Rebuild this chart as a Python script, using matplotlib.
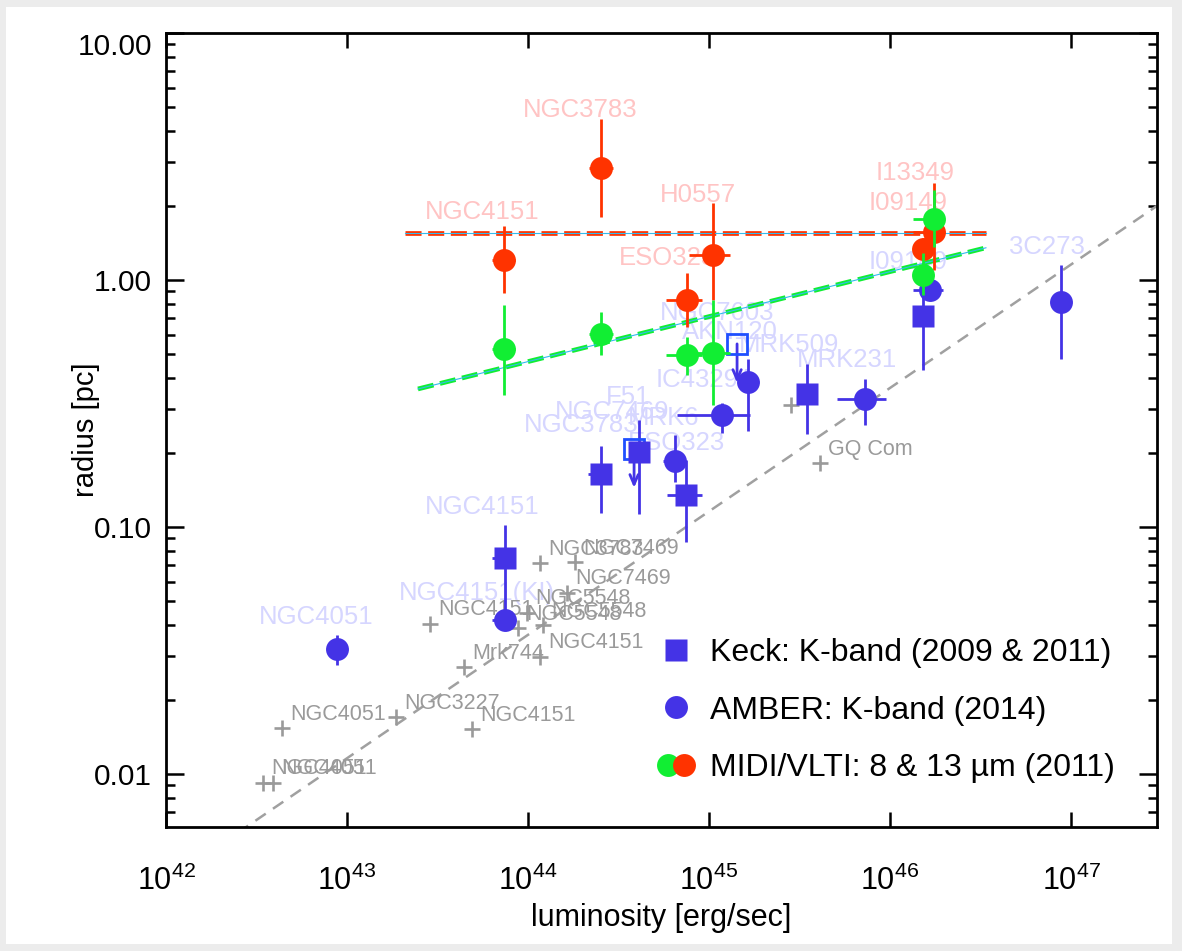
import numpy as np
import matplotlib as mpl
mpl.use('Agg')
import matplotlib.pyplot as plt
from matplotlib.ticker import FixedLocator, FixedFormatter, NullLocator, LogLocator, NullFormatter
from matplotlib.legend_handler import HandlerTuple
from matplotlib.lines import Line2D
from matplotlib.patches import Rectangle

plt.rcParams['font.family'] = ['Liberation Sans', 'DejaVu Sans']
plt.rcParams['mathtext.default'] = 'regular'

BLUE = '#4433E6'
LIMBLUE = '#1F4FFF'
RED = '#FF3300'
GREEN = '#11EE33'
PINK = '#FFC4C4'
LAV = '#D6D6FF'
GREY = '#9A9A9A'

# Keck K-band, filled squares (log L in erg/s, radius in pc)
keck_logL = [43.873, 44.403, 44.613, 44.873, 45.541, 46.182]
keck_R = [0.0748, 0.164, 0.201, 0.135, 0.345, 0.715]
keck_Rlo = [0.046, 0.114, 0.113, 0.087, 0.238, 0.433]
keck_Rhi = [0.102, 0.213, 0.271, 0.187, 0.457, 0.86]
keck_Llo = [43.80, 44.33, 44.60, 44.768, 45.53, 46.17]
keck_Lhi = [43.90, 44.42, 44.63, 44.961, 45.555, 46.195]

# Keck upper limits (open squares with arrows)
keck_ul_logL = [44.586, 45.155]
keck_ul_R = [0.207, 0.551]
keck_ul_tip = [0.144, 0.383]

# AMBER K-band 2014, circles
amber_logL = [42.945, 43.873, 44.812, 45.072, 45.215, 45.862, 46.221, 46.945]
amber_R = [0.032, 0.042, 0.185, 0.284, 0.386, 0.33, 0.91, 0.814]
amber_Rlo = [0.0276, 0.039, 0.152, 0.24, 0.245, 0.259, 0.87, 0.478]
amber_Rhi = [0.0366, 0.045, 0.235, 0.318, 0.48, 0.398, 0.95, 1.15]
amber_Llo = [42.925, 43.80, 44.745, 44.823, 45.20, 45.707, 46.127, 46.935]
amber_Lhi = [42.965, 43.88, 44.82, 45.227, 45.23, 45.978, 46.293, 46.955]

# MIDI/VLTI 13 um (red) and 8 um (green)
midi_logL = [43.867, 44.403, 44.878, 45.022, 46.182, 46.243]
midi_Llo = [43.80, 44.336, 44.762, 44.89, 46.17, 46.127]
midi_Lhi = [43.93, 44.47, 44.961, 45.116, 46.195, 46.293]
red13_R = [1.205, 2.84, 0.83, 1.26, 1.34, 1.56]
red13_Rlo = [0.885, 1.80, 0.645, 0.83, 1.22, 1.10]
red13_Rhi = [1.66, 4.49, 1.07, 2.05, 1.48, 2.47]
green8_R = [0.526, 0.604, 0.497, 0.506, 1.05, 1.77]
green8_Rlo = [0.342, 0.497, 0.412, 0.312, 0.87, 1.36]
green8_Rhi = [0.792, 0.741, 0.588, 0.83, 1.28, 2.31]

# fits to MIDI data
fit13_logL = [43.32, 46.53]
fit13_R = [1.55, 1.55]
fit8_logL = [43.392, 46.53]
fit8_R = [0.362, 1.35]

# reverberation radii (grey crosses)
rm_names = ['NGC4051', 'NGC4051', 'NGC4051', 'NGC3227', 'NGC4151', 'Mrk744', 'NGC4151',
            'NGC5548', 'NGC5548', 'NGC5548', 'NGC3783', 'NGC7469', 'NGC7469', 'NGC4151',
            '', 'GQ Com']
rm_logL = [42.641, 42.536, 42.591, 43.271, 43.691, 43.646, 43.459,
           43.945, 43.994, 44.083, 44.066, 44.260, 44.215, 44.066,
           45.453, 45.613]
rm_R = [0.0153, 0.0092, 0.0092, 0.0170, 0.0152, 0.0271, 0.0405,
        0.039, 0.0449, 0.0401, 0.0714, 0.0721, 0.0541, 0.0298,
        0.312, 0.1816]

# dust sublimation relation R ~ L^0.5
sub_logL = [42.30, 47.475]
sub_R = [0.00517, 1.995]

# source labels
pink_labels = ['NGC3783', 'NGC4151', 'H0557', 'ESO323', 'I13349', 'I09149']
pink_logL = [44.287, 43.746, 44.939, 44.773, 46.138, 46.099]
pink_R = [4.87, 1.88, 2.21, 1.23, 2.71, 2.05]
lav_labels = ['I09149', '3C273', 'MRK231', 'MRK509', 'NGC7603', 'AKN120', 'IC4329A', 'F51',
              'NGC7469', 'MRK6', 'NGC3783', 'ESO323', 'NGC4151', 'NGC4151(KI)', 'NGC4051']
lav_logL = [46.099, 46.867, 45.762, 45.442, 45.044, 45.116, 44.983, 44.552,
            44.464, 44.751, 44.293, 44.823, 43.746, 43.718, 42.829]
lav_R = [1.18, 1.36, 0.474, 0.546, 0.734, 0.615, 0.394, 0.336,
         0.292, 0.276, 0.259, 0.219, 0.1205, 0.0541, 0.0432]


def errs(logL, R, Rlo, Rhi, Llo, Lhi):
    L = 10 ** np.array(logL)
    R = np.array(R)
    yerr = [R - np.array(Rlo), np.array(Rhi) - R]
    xerr = [L - 10 ** np.array(Llo), 10 ** np.array(Lhi) - L]
    return L, R, xerr, yerr


fig = plt.figure(figsize=(11.82, 9.51), dpi=100)
fig.patch.set_facecolor('#ECECEC')
fig.add_artist(Rectangle((6 / 1182, 7 / 951), 1166 / 1182, 937 / 951, transform=fig.transFigure,
                         facecolor='white', edgecolor='none', zorder=-10))
ax = fig.add_axes([166 / 1182, 1 - 827 / 951, 991 / 1182, 794 / 951])
ax.set_xscale('log')
ax.set_yscale('log')

# labels under everything
for t, l, r in zip(pink_labels, pink_logL, pink_R):
    ax.text(10 ** l, r, t, color=PINK, fontsize=18.5, ha='center', va='center', zorder=1)
for t, l, r in zip(lav_labels, lav_logL, lav_R):
    ax.text(10 ** l, r, t, color=LAV, fontsize=18.5, ha='center', va='center', zorder=1)

# dust sublimation line and reverberation crosses
ax.plot(10 ** np.array(sub_logL), sub_R, color='#A0A0A0', lw=1.8, dashes=(5, 3.5), zorder=2)
ax.plot(10 ** np.array(rm_logL), rm_R, '+', color=GREY, ms=11, mew=1.9, zorder=2)
for t, l, r in zip(rm_names, rm_logL, rm_R):
    ax.annotate(t, (10 ** l, r), xytext=(6, 10), textcoords='offset points', color=GREY,
                fontsize=15.5, ha='left', va='center', zorder=2)

# MIDI fit lines
for fl, fr, c in [(fit13_logL, fit13_R, RED), (fit8_logL, fit8_R, GREEN)]:
    ax.plot(10 ** np.array(fl), fr, color=c, lw=3.4, dashes=(3.4, 1.4), zorder=3)
    ax.plot(10 ** np.array(fl), fr, color='#33BBEE', lw=0.8, zorder=3)

# Keck
L, R, xe, ye = errs(keck_logL, keck_R, keck_Rlo, keck_Rhi, keck_Llo, keck_Lhi)
ax.errorbar(L, R, xerr=xe, yerr=ye, fmt='s', color=BLUE, ms=15.5, mec='none',
            elinewidth=2, capsize=0, zorder=4)
for l, r, tip in zip(keck_ul_logL, keck_ul_R, keck_ul_tip):
    ax.annotate('', xy=(10 ** l, tip), xytext=(10 ** l, r),
                arrowprops=dict(arrowstyle='->,head_length=0.7,head_width=0.3', color=BLUE,
                                lw=2, shrinkA=0, shrinkB=0), zorder=4)
ax.plot(10 ** np.array(keck_ul_logL), keck_ul_R, 's', mfc='none', mec=LIMBLUE, mew=2,
        ms=14, zorder=4)

# AMBER
L, R, xe, ye = errs(amber_logL, amber_R, amber_Rlo, amber_Rhi, amber_Llo, amber_Lhi)
ax.errorbar(L, R, xerr=xe, yerr=ye, fmt='o', color=BLUE, ms=16.5, mec='none',
            elinewidth=2, capsize=0, zorder=4)

# MIDI
L, R, xe, ye = errs(midi_logL, red13_R, red13_Rlo, red13_Rhi, midi_Llo, midi_Lhi)
ax.errorbar(L, R, xerr=xe, yerr=ye, fmt='o', color=RED, ms=16.5, mec='none',
            elinewidth=2, capsize=0, zorder=5)
L, R, xe, ye = errs(midi_logL, green8_R, green8_Rlo, green8_Rhi, midi_Llo, midi_Lhi)
ax.errorbar(L, R, xerr=xe, yerr=ye, fmt='o', color=GREEN, ms=16.5, mec='none',
            elinewidth=2, capsize=0, zorder=6)

# axes
ax.set_xlim(1e42, 10 ** 47.475)
ax.set_ylim(10 ** -2.215, 10)
xt = [1e42, 1e43, 1e44, 1e45, 1e46, 1e47]
ax.xaxis.set_major_locator(FixedLocator(xt))
ax.xaxis.set_major_formatter(FixedFormatter([r'$10^{%d}$' % e for e in range(42, 48)]))
ax.xaxis.set_minor_locator(NullLocator())
ax.yaxis.set_major_locator(FixedLocator([0.01, 0.1, 1, 10]))
ax.yaxis.set_major_formatter(FixedFormatter(['0.01', '0.10', '1.00', '']))
ax.yaxis.set_minor_locator(LogLocator(base=10, subs=np.arange(2, 10)))
ax.yaxis.set_minor_formatter(NullFormatter())
ax.annotate('10.00', (0, 1), xycoords='axes fraction', xytext=(-10, -10),
            textcoords='offset points', ha='right', va='center', fontsize=21.5)

for s in ax.spines.values():
    s.set_linewidth(2)
ax.tick_params(which='both', direction='in', top=True, right=True, width=1.8)
ax.tick_params(axis='x', which='major', length=11, pad=28, labelsize=22)
ax.tick_params(axis='y', which='major', length=13, pad=10, labelsize=21.5)
ax.tick_params(axis='y', which='minor', length=6.5)

ax.set_xlabel('luminosity [erg/sec]', fontsize=22, labelpad=4)
ax.set_ylabel('radius [pc]', fontsize=21)
ax.yaxis.set_label_coords((100 - 166) / 991, 0.5)

h_keck = Line2D([], [], marker='s', ls='none', color=BLUE, ms=15.5, mec='none')
h_amber = Line2D([], [], marker='o', ls='none', color=BLUE, ms=16.5, mec='none')
h_g = Line2D([], [], marker='o', ls='none', color=GREEN, ms=16.5, mec='none')
h_r = Line2D([], [], marker='o', ls='none', color=RED, ms=16.5, mec='none')
ax.legend([h_keck, h_amber, (h_g, h_r)],
          ['Keck: K-band (2009 & 2011)', 'AMBER: K-band (2014)', 'MIDI/VLTI: 8 & 13 µm (2011)'],
          handler_map={tuple: HandlerTuple(ndivide=None, pad=0)},
          loc='upper left', bbox_to_anchor=(0.499, 0.238), frameon=False, fontsize=23,
          handlelength=1.0, handletextpad=0.55, labelspacing=0.86, borderpad=0, borderaxespad=0)

fig.savefig('out.png', dpi=100)
plt.close()
